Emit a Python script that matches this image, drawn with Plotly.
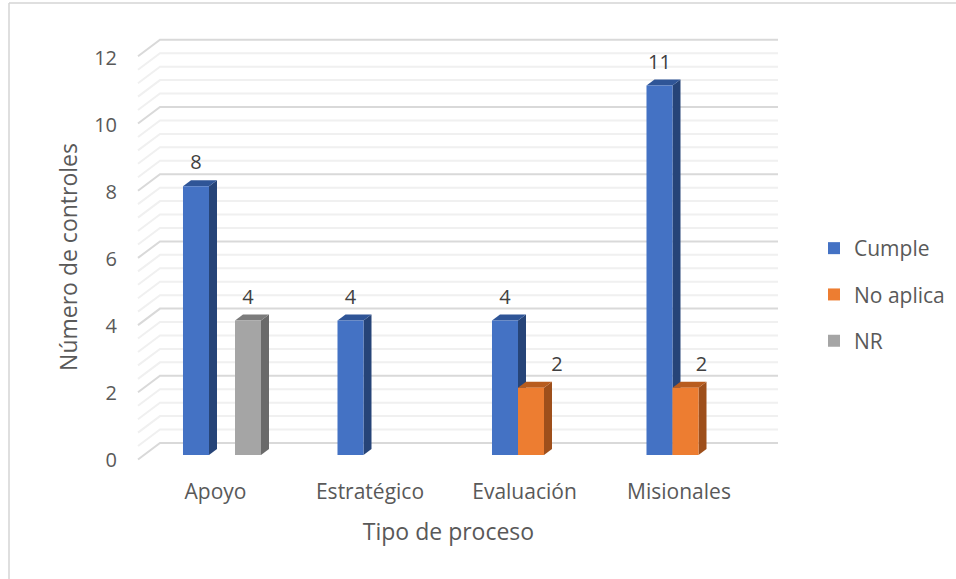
import numpy as np
import plotly.graph_objects as go

categories = ["Apoyo", "Estratégico", "Evaluación", "Misionales"]
cumple = [8, 4, 4, 11]
no_aplica = [None, None, 2, 2]
nr = [4, None, None, None]
series_names = ["Cumple", "No aplica", "NR"]
y_ticks = [0, 2, 4, 6, 8, 10, 12]
x_title = "Tipo de proceso"
y_title = "Número de controles"

series_values = [cumple, no_aplica, nr]
front = ["#4472C4", "#ED7D31", "#A5A5A5"]
side = ["#264478", "#9E4F1B", "#6A6A6A"]
top = ["#2F5597", "#B85C1E", "#7C7C7C"]

FONT = "Open Sans"
TXT = "#595959"
W, H = 956, 579
L, R, T, B = 118, 779, 38, 476
PX_X, PX_Y = 154.5, 33.6     # pixels per category / per unit
CX0, BASE = 222, 455         # pixel of first category centre / of value 0
BAR = 26 / PX_X
DX, DY = 8 / PX_X, 6 / PX_Y  # bar depth
label_shift_px = {(1, 2): 26, (1, 3): 16}

xr_main = [(L - CX0) / PX_X, (R - CX0) / PX_X]
yr_main = [(BASE - B) / PX_Y, (BASE - T) / PX_Y]

fig = go.Figure()

# wall and floor grid: back plane with a diagonal towards the front
gx = [(138 - CX0) / PX_X, (160 - CX0) / PX_X, (778 - CX0) / PX_X]
off_front, off_back = -4.5 / PX_Y, 12 / PX_Y
all_grid = np.round(np.arange(0, 12.01, 0.4), 1)
for is_major, col in [(False, "#F0F0F0"), (True, "#D9D9D9")]:
    xs, ys = [], []
    for v in all_grid:
        if (abs(v / 2 - round(v / 2)) < 1e-6) == is_major:
            xs += gx + [None]
            ys += [v + off_front, v + off_back, v + off_back, None]
    fig.add_trace(go.Scatter(x=xs, y=ys, mode="lines", line=dict(color=col, width=2),
                             showlegend=False, hoverinfo="skip", xaxis="x", yaxis="y"))

# depth faces of each bar, from the series values
for j, vals in enumerate(series_values):
    for i, v in enumerate(vals):
        if v is None:
            continue
        c = i + (j - 1) * BAR
        xl, xr = c - BAR / 2, c + BAR / 2
        fig.add_trace(go.Scatter(x=[xr, xr + DX, xr + DX, xr, xr], y=[0, DY, v + DY, v, 0],
                                 mode="lines", fill="toself", fillcolor=side[j], line=dict(width=0, color=side[j]),
                                 showlegend=False, hoverinfo="skip", xaxis="x", yaxis="y"))
        fig.add_trace(go.Scatter(x=[xl, xl + DX, xr + DX, xr, xl], y=[v, v + DY, v + DY, v, v],
                                 mode="lines", fill="toself", fillcolor=top[j], line=dict(width=0, color=top[j]),
                                 showlegend=False, hoverinfo="skip", xaxis="x", yaxis="y"))

# front faces: the actual bars, on an overlay with the same scale
for j, (name, vals) in enumerate(zip(series_names, series_values)):
    fig.add_trace(go.Bar(x=list(range(len(categories))), y=vals, name=name, legendgroup=name,
                         marker=dict(color=front[j], line=dict(width=0)),
                         hoverinfo="skip", xaxis="x2", yaxis="y2"))

# value labels
lx, ly, lt = [], [], []
for j, vals in enumerate(series_values):
    for i, v in enumerate(vals):
        if v is None:
            continue
        lx.append(i + (j - 1) * BAR + label_shift_px.get((j, i), 0) / PX_X)
        ly.append(v + 0.35)
        lt.append(str(v))
fig.add_trace(go.Scatter(x=lx, y=ly, text=lt, mode="text", textposition="top center",
                         textfont=dict(family=FONT, size=20, color="#404040"),
                         showlegend=False, hoverinfo="skip", xaxis="x2", yaxis="y2"))

# carrier for the visible tick axes (front edge of the chart)
XT0, YT0, YT_PX = 215.5, 460, 33.5
fig.add_trace(go.Scatter(x=list(range(len(categories))), y=[0] * len(categories), mode="markers",
                         marker=dict(opacity=0, size=1), showlegend=False, hoverinfo="skip",
                         xaxis="x3", yaxis="y3"))

hidden = dict(visible=False, fixedrange=True)
fig.update_layout(
    width=W, height=H, autosize=False,
    margin=dict(l=L, r=W - R, t=T, b=H - B, pad=0, autoexpand=False),
    paper_bgcolor="white", plot_bgcolor="white",
    barmode="group", bargap=0.495, bargroupgap=0,
    font=dict(family=FONT, size=20, color=TXT),
    xaxis=dict(range=xr_main, **hidden),
    yaxis=dict(range=yr_main, **hidden),
    xaxis2=dict(range=xr_main, overlaying="x", **hidden),
    yaxis2=dict(range=yr_main, overlaying="y", **hidden),
    xaxis3=dict(range=[(L - XT0) / PX_X, (R - XT0) / PX_X], overlaying="x", anchor="y3",
                tickmode="array", tickvals=list(range(len(categories))), ticktext=categories,
                showgrid=False, zeroline=False, showline=False, ticks="", ticklabelstandoff=1,
                tickfont=dict(family=FONT, size=21, color=TXT),
                title=dict(text=x_title, font=dict(family=FONT, size=23, color=TXT), standoff=19)),
    yaxis3=dict(range=[(YT0 - B) / YT_PX, (YT0 - T) / YT_PX], overlaying="y", anchor="x3",
                tickmode="array", tickvals=y_ticks, showgrid=False, zeroline=False, showline=False,
                ticks="", tickfont=dict(family=FONT, size=20, color=TXT),
                title=dict(text=y_title, font=dict(family=FONT, size=23, color=TXT), standoff=10)),
    legend=dict(x=(814 - L) / (R - L), xanchor="left", y=(B - 228) / (B - T), yanchor="top",
                font=dict(family=FONT, size=21, color=TXT), traceorder="grouped", tracegroupgap=16,
                bgcolor="rgba(0,0,0,0)"),
    shapes=[
        dict(type="line", xref="paper", yref="paper", x0=(9 - L) / (R - L), x1=(W - L) / (R - L),
             y0=(B - 3) / (B - T), y1=(B - 3) / (B - T), line=dict(color="#D4D4D4", width=1.5)),
        dict(type="line", xref="paper", yref="paper", x0=(9 - L) / (R - L), x1=(9 - L) / (R - L),
             y0=(B - 3) / (B - T), y1=(B - H) / (B - T), line=dict(color="#D4D4D4", width=1.5)),
    ],
)

fig.write_html("out.html", config=dict(displayModeBar=False),
               post_script="document.body.style.margin='0';")
